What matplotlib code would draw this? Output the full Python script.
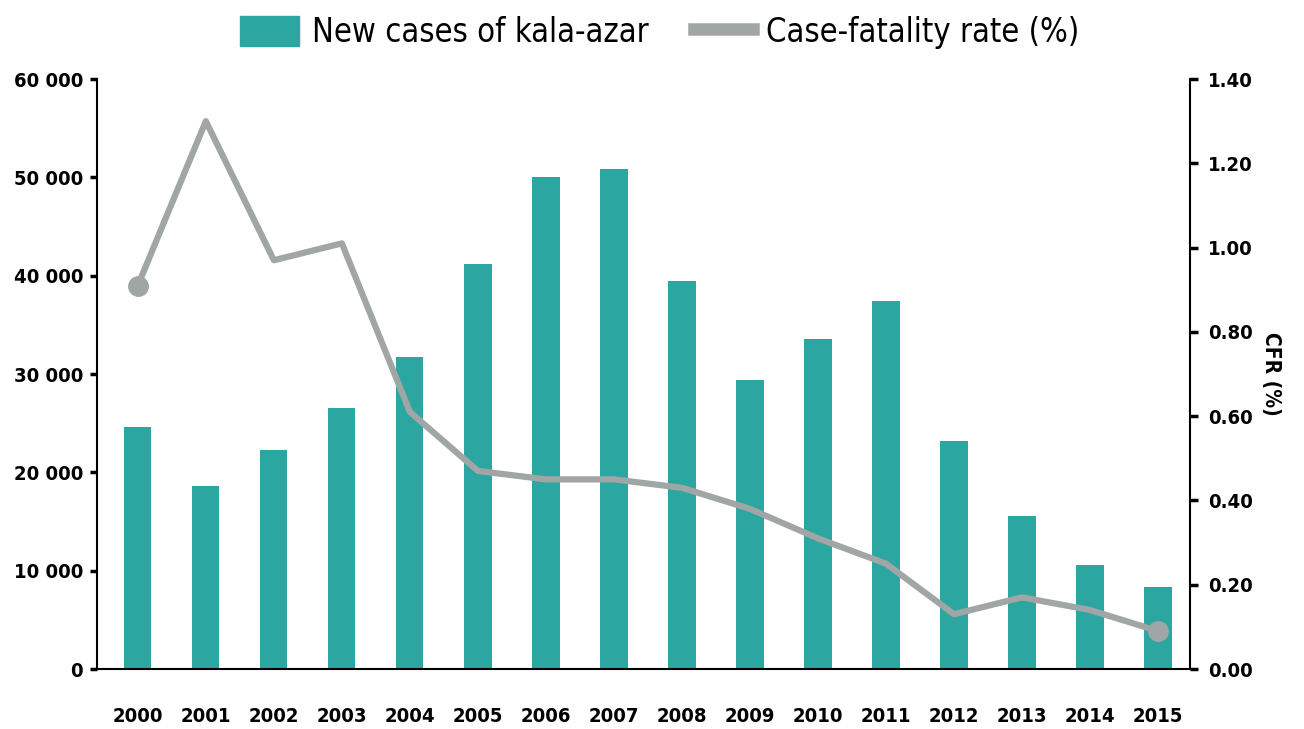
import matplotlib.pyplot as plt
from matplotlib.patches import Patch
from matplotlib.lines import Line2D
from matplotlib.ticker import FuncFormatter

plt.rcParams['font.family'] = ['DejaVu Sans']
plt.rcParams['font.stretch'] = 'condensed'

years = ['2000', '2001', '2002', '2003', '2004', '2005', '2006', '2007',
         '2008', '2009', '2010', '2011', '2012', '2013', '2014', '2015']
new_cases = [24600, 18600, 22300, 26500, 31700, 41200, 50000, 50800,
             39500, 29400, 33600, 37400, 23200, 15600, 10600, 8300]
cfr = [0.91, 1.30, 0.97, 1.01, 0.61, 0.47, 0.45, 0.45,
       0.43, 0.38, 0.31, 0.25, 0.13, 0.17, 0.14, 0.09]

bar_color = '#2BA6A0'
line_color = '#A0A5A6'

fig = plt.figure(figsize=(13.04, 7.29), dpi=100)
ax = fig.add_axes([0.0744, 0.0823, 0.8382, 0.8093])
x = range(len(years))
ax.bar(x, new_cases, width=0.4, color=bar_color, zorder=2)
ax.set_xlim(-0.6, 15.47)
ax.set_ylim(0, 60000)
ax.set_yticks(range(0, 60001, 10000))
ax.yaxis.set_major_formatter(FuncFormatter(lambda v, p: f"{int(v):,}".replace(',', ' ')))
ax.set_xticks(list(x))
ax.set_xticklabels(years)
ax.tick_params(axis='x', length=0, pad=27, labelsize=14.5)
ax.tick_params(axis='y', length=5, width=2.5, direction='out', pad=5, labelsize=14.5)
for lbl in ax.get_xticklabels() + ax.get_yticklabels():
    lbl.set_fontweight('bold')
for s in ['top', 'right']:
    ax.spines[s].set_visible(False)
ax.spines['left'].set_linewidth(1.5)
ax.spines['bottom'].set_linewidth(1.5)

ax2 = ax.twinx()
ax2.plot(x, cfr, color=line_color, lw=4.5, zorder=3, solid_joinstyle='round')
ax2.plot([0, 15], [cfr[0], cfr[-1]], 'o', color=line_color, ms=14, zorder=4)
ax2.set_ylim(0, 1.40)
ax2.set_yticks([i * 0.2 for i in range(8)])
ax2.yaxis.set_major_formatter(FuncFormatter(lambda v, p: f"{v:.2f}"))
ax2.tick_params(axis='y', length=6, width=2.5, direction='out', pad=7, labelsize=14.5)
for lbl in ax2.get_yticklabels():
    lbl.set_fontweight('bold')
for s in ['top', 'left', 'bottom']:
    ax2.spines[s].set_visible(False)
ax2.spines['right'].set_linewidth(1.5)
ax2.set_ylabel('CFR (%)', rotation=270, fontsize=15, fontweight='bold', labelpad=20)

handles = [Patch(color=bar_color), Line2D([0], [0], color=line_color, lw=9)]
fig.legend(handles, ['New cases of kala-azar', 'Case-fatality rate (%)'],
           loc='upper center', bbox_to_anchor=(0.506, 1.018), ncol=2, frameon=False,
           fontsize=23.5, handlelength=1.8, handleheight=1.0, columnspacing=1.4,
           handletextpad=0.4)

fig.savefig('out.png', dpi=100)
